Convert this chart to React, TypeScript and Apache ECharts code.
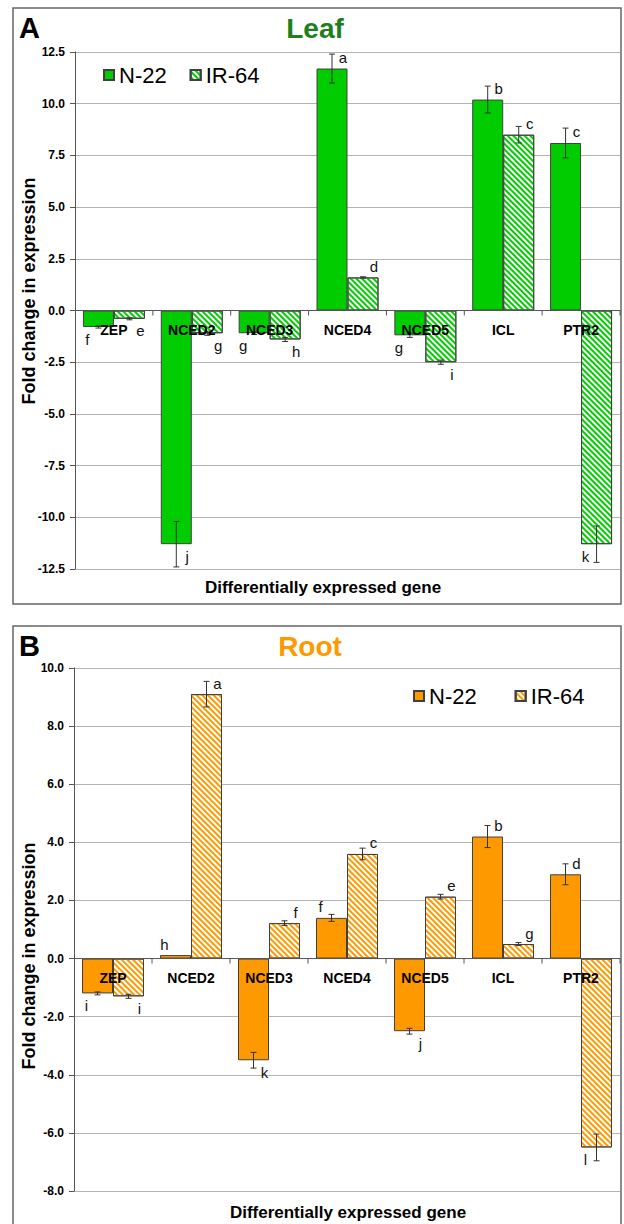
import React, { useEffect, useRef } from "react";
import * as echarts from "echarts";

const categories = ["ZEP", "NCED2", "NCED3", "NCED4", "NCED5", "ICL", "PTR2"];
const seriesNames = ["N-22", "IR-64"];

// Leaf (panel A)
const leafN22 = [-0.8, -11.3, -1.1, 11.7, -1.2, 10.2, 8.1];
const leafN22Err = [0.05, 1.1, 0.06, 0.7, 0.1, 0.65, 0.72];
const leafIR64 = [-0.4, -1.1, -1.4, 1.6, -2.5, 8.5, -11.3];
const leafIR64Err = [0.05, 0.1, 0.1, 0.03, 0.1, 0.4, 0.88];
const leafN22Letters = ["f", "j", "g", "a", "g", "b", "c"];
const leafIR64Letters = ["e", "g", "h", "d", "i", "c", "k"];
const leafN22Side = [-1, 1, -1, 1, -1, 1, 1];
const leafIR64Side = [1, 1, 1, 1, 1, 1, -1];

// Root (panel B)
const rootN22 = [-1.2, 0.12, -3.5, 1.4, -2.5, 4.2, 2.9];
const rootN22Err = [0.05, 0, 0.27, 0.12, 0.1, 0.38, 0.36];
const rootIR64 = [-1.3, 9.1, 1.22, 3.6, 2.13, 0.5, -6.5];
const rootIR64Err = [0.07, 0.44, 0.08, 0.2, 0.08, 0.05, 0.46];
const rootN22Letters = ["i", "h", "k", "f", "j", "b", "d"];
const rootIR64Letters = ["i", "a", "f", "c", "e", "g", "l"];
const rootN22Side = [-1, -1, 1, -1, 1, 1, 1];
const rootIR64Side = [1, 1, 1, 1, 1, 1, -1];

const FONT = '"Liberation Sans", Arial, Helvetica, sans-serif';

function errorSeries(values, errs, letters, sides, offset) {
  return {
    type: "custom",
    z: 6,
    clip: false,
    silent: true,
    data: values.map((v, i) => [i, v]),
    encode: { x: 0, y: 1 },
    renderItem: (params, api) => {
      const i = params.dataIndex;
      const v = values[i];
      const e = errs[i];
      const base = api.coord([i, v]);
      const cx = base[0] + offset;
      const children = [];
      if (e > 0) {
        const top = api.coord([i, v + e])[1];
        const bot = api.coord([i, v - e])[1];
        const st = { stroke: "#333", lineWidth: 1 };
        children.push({ type: "line", shape: { x1: cx, y1: top, x2: cx, y2: bot }, style: st });
        children.push({ type: "line", shape: { x1: cx - 3, y1: top, x2: cx + 3, y2: top }, style: st });
        children.push({ type: "line", shape: { x1: cx - 3, y1: bot, x2: cx + 3, y2: bot }, style: st });
      }
      const ly = v >= 0 ? base[1] - 11 : base[1] + 12;
      children.push({
        type: "text",
        style: {
          text: letters[i],
          x: cx + sides[i] * 11,
          y: ly,
          align: "center",
          verticalAlign: "middle",
          fontSize: 15,
          fontFamily: FONT,
          fill: "#111",
        },
      });
      return { type: "group", children };
    },
  };
}

// category axis drawn on the zero line (labels, ticks and line)
function zeroAxisSeries() {
  return {
    type: "custom",
    z: 7,
    clip: false,
    silent: true,
    data: categories.map((c, i) => [i, 0]),
    encode: { x: 0, y: 1 },
    renderItem: (params, api) => {
      const i = params.dataIndex;
      const p = api.coord([i, 0]);
      const w = api.size([1, 0])[0];
      const st = { stroke: "#555", lineWidth: 1 };
      return {
        type: "group",
        children: [
          { type: "line", shape: { x1: p[0] - w / 2, y1: p[1], x2: p[0] + w / 2, y2: p[1] }, style: st },
          { type: "line", shape: { x1: p[0] + w / 2, y1: p[1], x2: p[0] + w / 2, y2: p[1] + 5 }, style: st },
          {
            type: "text",
            style: {
              text: categories[i],
              x: p[0],
              y: p[1] + 19.5,
              align: "center",
              verticalAlign: "middle",
              fontSize: 14,
              fontWeight: "bold",
              fontFamily: FONT,
              fill: "#000",
            },
          },
        ],
      };
    },
  };
}

function buildOption(p) {
  const hatch = {
    symbol: "rect",
    symbolSize: 1,
    color: p.color,
    dashArrayX: [1, 0],
    dashArrayY: [2, 1.8],
    rotation: Math.PI / 4,
  };
  return {
    animation: false,
    backgroundColor: "#fff",
    textStyle: { fontFamily: FONT },
    grid: { left: p.gridLeft, top: p.gridTop, width: 620 - p.gridLeft, height: p.gridHeight },
    legend: {
      data: seriesNames,
      left: p.legendLeft,
      top: p.legendTop,
      padding: 0,
      itemWidth: 10,
      itemHeight: 10,
      itemGap: p.legendGap,
      icon: "rect",
      textStyle: { fontSize: 22, color: "#000", fontFamily: FONT },
    },
    xAxis: {
      type: "category",
      data: categories,
      axisLine: { show: false },
      axisTick: { show: false },
      axisLabel: { show: false },
      splitLine: { show: false },
    },
    yAxis: {
      type: "value",
      min: p.yMin,
      max: p.yMax,
      interval: p.yInterval,
      axisLine: { show: true, lineStyle: { color: "#555", width: 1 } },
      axisTick: { show: true, length: 5, lineStyle: { color: "#555" } },
      axisLabel: {
        margin: 10,
        fontSize: 12,
        fontWeight: "bold",
        color: "#000",
        fontFamily: FONT,
        formatter: (v) => v.toFixed(1),
      },
      splitLine: { show: true, lineStyle: { color: "#b4b4b4", width: 1 } },
    },
    graphic: [
      {
        type: "rect",
        shape: { x: 13, y: p.borderTop, width: 608, height: p.borderHeight },
        style: { fill: "none", stroke: "#666", lineWidth: 1.5 },
        z: 0,
      },
      {
        type: "text",
        x: 19,
        y: p.titleY,
        style: { text: p.panel, fontSize: 29, fontWeight: "bold", fill: "#000", fontFamily: FONT, verticalAlign: "middle" },
      },
      {
        type: "text",
        x: p.titleX,
        y: p.titleY,
        style: {
          text: p.title,
          fontSize: 28,
          fontWeight: "bold",
          fill: p.titleColor,
          fontFamily: FONT,
          align: "center",
          verticalAlign: "middle",
        },
      },
      {
        type: "text",
        x: 29,
        y: p.yTitleY,
        rotation: Math.PI / 2,
        style: {
          text: "Fold change in expression",
          fontSize: 18,
          fontWeight: "bold",
          fill: "#000",
          fontFamily: FONT,
          align: "center",
          verticalAlign: "middle",
        },
      },
      {
        type: "text",
        x: p.xTitleX,
        y: p.xTitleY,
        style: {
          text: "Differentially expressed gene",
          fontSize: 17,
          fontWeight: "bold",
          fill: "#000",
          fontFamily: FONT,
          align: "center",
          verticalAlign: "middle",
        },
      },
    ],
    series: [
      {
        type: "bar",
        name: seriesNames[0],
        data: p.n22,
        barWidth: 31,
        barGap: "0%",
        itemStyle: { color: p.color, borderColor: "#404040", borderWidth: 1 },
      },
      {
        type: "bar",
        name: seriesNames[1],
        data: p.ir64,
        barWidth: 31,
        barGap: "0%",
        itemStyle: { color: "#fff", borderColor: "#404040", borderWidth: 1, decal: hatch },
      },
      errorSeries(p.n22, p.n22Err, p.n22Letters, p.n22Side, -15.5),
      errorSeries(p.ir64, p.ir64Err, p.ir64Letters, p.ir64Side, 15.5),
      zeroAxisSeries(),
    ],
  };
}

const leafPanel = {
  panel: "A",
  title: "Leaf",
  titleColor: "#1d801d",
  titleX: 315,
  titleY: 28,
  color: "#00cc00",
  n22: leafN22,
  n22Err: leafN22Err,
  ir64: leafIR64,
  ir64Err: leafIR64Err,
  n22Letters: leafN22Letters,
  ir64Letters: leafIR64Letters,
  n22Side: leafN22Side,
  ir64Side: leafIR64Side,
  yMin: -12.5,
  yMax: 12.5,
  yInterval: 2.5,
  gridLeft: 75,
  gridTop: 52,
  gridHeight: 517,
  legendLeft: 103,
  legendTop: 64,
  legendGap: 23,
  borderTop: 8,
  borderHeight: 596,
  yTitleY: 291,
  xTitleX: 323,
  xTitleY: 587,
};

const rootPanel = {
  panel: "B",
  title: "Root",
  titleColor: "#ff9900",
  titleX: 310,
  titleY: 30,
  color: "#ff9900",
  n22: rootN22,
  n22Err: rootN22Err,
  ir64: rootIR64,
  ir64Err: rootIR64Err,
  n22Letters: rootN22Letters,
  ir64Letters: rootIR64Letters,
  n22Side: rootN22Side,
  ir64Side: rootIR64Side,
  yMin: -8,
  yMax: 10,
  yInterval: 2,
  gridLeft: 74,
  gridTop: 52,
  gridHeight: 523,
  legendLeft: 413,
  legendTop: 69,
  legendGap: 38,
  borderTop: 10,
  borderHeight: 620,
  yTitleY: 340,
  xTitleX: 348,
  xTitleY: 596,
};

function Panel({ cfg, height }) {
  const ref = useRef(null);
  useEffect(() => {
    const chart = echarts.init(ref.current, null, { renderer: "svg" });
    chart.setOption(buildOption(cfg));
    return () => chart.dispose();
  }, []);
  return <div ref={ref} style={{ width: 624, height }} />;
}

export default function App() {
  return (
    <div style={{ position: "absolute", left: 0, top: 0, width: 624, height: 1224, background: "#fff", overflow: "hidden" }}>
      <Panel cfg={leafPanel} height={616} />
      <Panel cfg={rootPanel} height={608} />
    </div>
  );
}
